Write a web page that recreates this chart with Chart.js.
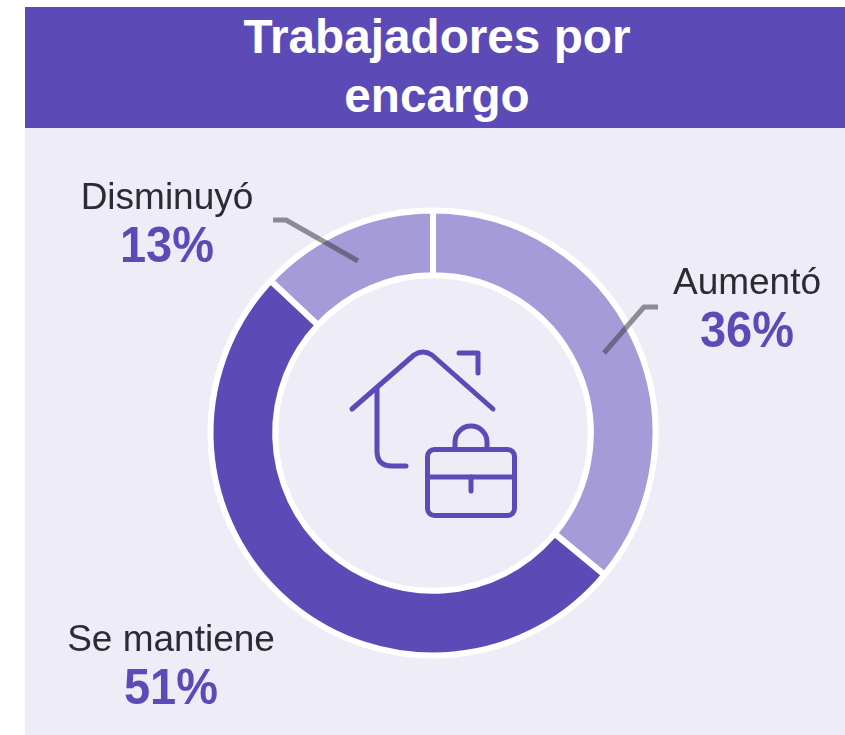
<!DOCTYPE html>
<html><head><meta charset="utf-8">
<script src="https://cdn.jsdelivr.net/npm/chart.js@4"></script>
<style>
html,body{margin:0;padding:0;background:#fff;width:845px;height:735px;overflow:hidden}
#panel{position:absolute;left:25px;top:128px;width:820px;height:607px;background:#EEECF7}
#head{position:absolute;left:25px;top:7px;width:820px;height:121px;box-sizing:border-box;padding-left:4px;background:#5C4BB7;color:#fff;font:bold 47.7px/59px "Liberation Sans",sans-serif;text-align:center}
#head div{height:59px}
#wrap{position:absolute;left:203px;top:203px;width:460px;height:460px}
.lab{position:absolute;text-align:center;color:#2b2b33;font:37px/38px "Liberation Sans",sans-serif;transform:translateX(-50%);white-space:nowrap}
.lab b{display:block;position:relative;top:2px;color:#5C4BB7;font:bold 47px/54px "Liberation Sans",sans-serif;transform:scaleY(1.07)}
#icon{position:absolute;left:0;top:0}
</style></head><body>
<div id="panel"></div>
<div id="head"><div>Trabajadores por</div><div>encargo</div></div>
<div id="wrap"><canvas id="c" width="460" height="460"></canvas></div>
<svg id="icon" width="845" height="735" fill="none" stroke="#5C4BB7" stroke-width="5" stroke-linecap="round" stroke-linejoin="round">
<path d="M352 409 L414 355 Q423 349 432 355 L493 409"/>
<path d="M459 353 H478 V373"/>
<path d="M377 389 V451 Q377 466 392 466 H406"/>
<rect x="427.5" y="449.5" width="87" height="66" rx="7"/>
<path d="M427.5 477 H514.5"/>
<path d="M471 477 V491"/>
<path d="M455 449 V442 A16 16 0 0 1 487 442 V449"/>
</svg>
<div class="lab" style="left:167px;top:178px">Disminuyó<b>13%</b></div>
<div class="lab" style="left:747px;top:263px">Aumentó<b>36%</b></div>
<div class="lab" style="left:171px;top:620px">Se mantiene<b>51%</b></div>
<script>
const categories=["Aumentó","Se mantiene","Disminuyó"];
const values=[36,51,13];
const colors=["#A59BD8","#5C4BB7","#A59BD8"];
const leaders={
 "Aumentó":[[455,104],[441,104],[401,150]],
 "Disminuyó":[[70,17],[83,17],[155,58]]
};
const leaderPlugin={id:"leaders",afterDatasetsDraw(chart){
 const x=chart.ctx;x.save();x.strokeStyle="rgba(60,60,70,0.55)";x.lineWidth=5;x.lineJoin="round";
 for(const k in leaders){x.beginPath();leaders[k].forEach((p,i)=>i?x.lineTo(p[0],p[1]):x.moveTo(p[0],p[1]));x.stroke();}
 x.restore();}};
new Chart(document.getElementById("c"),{
 type:"doughnut",
 data:{labels:categories,datasets:[{data:values,backgroundColor:colors,borderColor:"#fff",borderWidth:6}]},
 options:{responsive:false,animation:false,cutout:161,radius:222.5,
  plugins:{legend:{display:false},tooltip:{enabled:false}}},
 plugins:[leaderPlugin]
});
</script>
</body></html>
